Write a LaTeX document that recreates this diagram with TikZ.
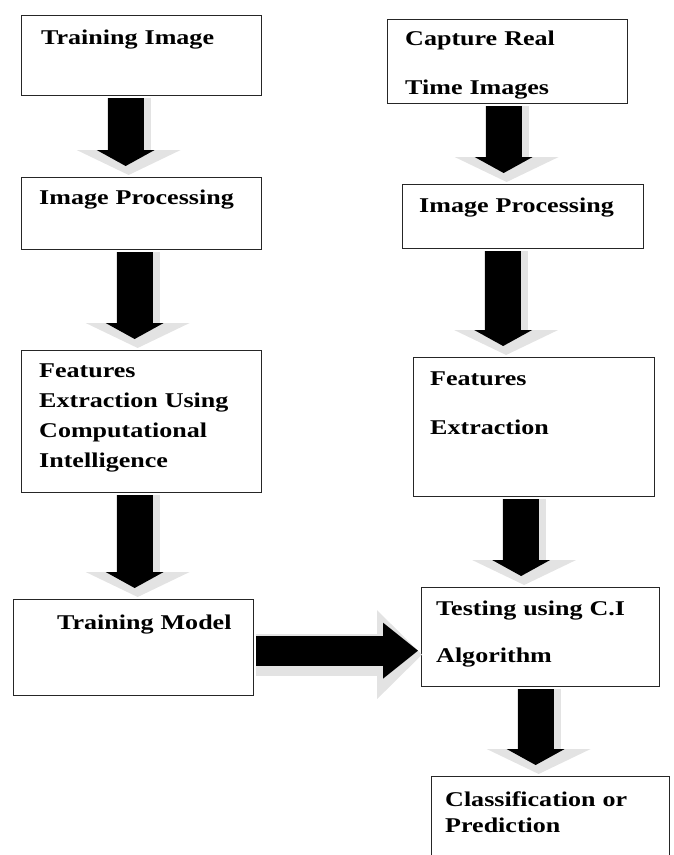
\documentclass[tikz,border=0pt]{standalone}
\usepackage{fontspec}
\setmainfont{Liberation Serif}[FakeStretch=1.24]
\usetikzlibrary{arrows.meta}
\tikzset{
  box/.style={draw=black!85, line width=1.3pt, anchor=north west, inner sep=0pt},
  txt/.style={anchor=base west, inner sep=0pt, align=left, text width=215pt,
    font=\bfseries\fontsize{21}{30}\selectfont},
  glow/.style={draw=black!11, line width=44pt,
    -{Triangle[width=104pt,length=25pt,line width=0pt]}},
  blk/.style={draw=black, line width=36pt,
    -{Triangle[width=58pt,length=16pt,line width=0pt]}},
  hglow/.style={draw=black!11, line width=42pt,
    -{Triangle[width=89pt,length=45pt,line width=0pt]}},
  hblk/.style={draw=black, line width=30pt,
    -{Triangle[width=56pt,length=35pt,line width=0pt]}}
}
\begin{document}
\begin{tikzpicture}[x=1pt,y=-1pt]
  \useasboundingbox (0,0) rectangle (673,855);
  % training side
  \node[box, minimum width=240pt, minimum height=80pt] (trainimg) at (21,15) {};
  \node[box, minimum width=240pt, minimum height=72pt] (procleft) at (21,177) {};
  \node[box, minimum width=240pt, minimum height=142pt] (featci) at (21,350) {};
  \node[box, minimum width=240pt, minimum height=96pt] (trainmodel) at (13,599) {};
  % testing side
  \node[box, minimum width=240pt, minimum height=84pt] (capture) at (387,19) {};
  \node[box, minimum width=241pt, minimum height=64pt] (procright) at (402,184) {};
  \node[box, minimum width=241pt, minimum height=139pt] (featright) at (413,357) {};
  \node[box, minimum width=238pt, minimum height=99pt] (testing) at (421,587) {};
  \node[box, minimum width=238pt, minimum height=86pt] (classify) at (431,776) {};

  \node[txt] (trainimgtxt) at (41,44) {Training Image};
  \node[txt] (proclefttxt) at (39,204) {Image Processing};
  \node[txt] (featcitxt) at (39,377) {Features\\Extraction Using\\Computational\\Intelligence};
  \node[txt] (trainmodeltxt) at (57,629) {Training Model};
  \node[txt] (capturetxt) at (405,45) {Capture Real\\[19pt]Time Images};
  \node[txt] (procrighttxt) at (419,212) {Image Processing};
  \node[txt] (featrighttxt) at (430,385) {Features\\[19pt]Extraction};
  \node[txt] (testingtxt) at (436,615) {Testing using C.I\\[17pt]Algorithm};
  \node[txt] (classifytxt) at (445,806) {Classification or\\[-4pt]Prediction};

  % block arrows
  \draw[glow] ([xshift=-13pt,yshift=-2pt]trainimg.south) -- ([xshift=-13pt,yshift=2pt]trainimg.south |- procleft.north);
  \draw[blk] ([xshift=-16pt,yshift=-2pt]trainimg.south) -- ([xshift=-16pt,yshift=11pt]trainimg.south |- procleft.north);
  \draw[glow] ([xshift=-4pt,yshift=-2pt]procleft.south) -- ([xshift=-4pt,yshift=2pt]procleft.south |- featci.north);
  \draw[blk] ([xshift=-7pt,yshift=-2pt]procleft.south) -- ([xshift=-7pt,yshift=11pt]procleft.south |- featci.north);
  \draw[glow] ([xshift=-4pt,yshift=-2pt]featci.south) -- ([xshift=-4pt,yshift=2pt]featci.south |- trainmodel.north);
  \draw[blk] ([xshift=-7pt,yshift=-2pt]featci.south) -- ([xshift=-7pt,yshift=11pt]featci.south |- trainmodel.north);
  \draw[glow] ([xshift=-1pt,yshift=-2pt]capture.south) -- ([xshift=-1pt,yshift=2pt]capture.south |- procright.north);
  \draw[blk] ([xshift=-4pt,yshift=-2pt]capture.south) -- ([xshift=-4pt,yshift=11pt]capture.south |- procright.north);
  \draw[glow] ([xshift=-17pt,yshift=-2pt]procright.south) -- ([xshift=-17pt,yshift=2pt]procright.south |- featright.north);
  \draw[blk] ([xshift=-20pt,yshift=-2pt]procright.south) -- ([xshift=-20pt,yshift=11pt]procright.south |- featright.north);
  \draw[glow] ([xshift=-10pt,yshift=-2pt]featright.south) -- ([xshift=-10pt,yshift=2pt]featright.south |- testing.north);
  \draw[blk] ([xshift=-13pt,yshift=-2pt]featright.south) -- ([xshift=-13pt,yshift=11pt]featright.south |- testing.north);
  \draw[glow] ([xshift=-2pt,yshift=-2pt]testing.south) -- ([xshift=-2pt,yshift=2pt]testing.south |- classify.north);
  \draw[blk] ([xshift=-5pt,yshift=-2pt]testing.south) -- ([xshift=-5pt,yshift=11pt]testing.south |- classify.north);
  \draw[hglow] ([xshift=2pt,yshift=-7pt]trainmodel.east) -- ([xshift=1pt,yshift=-7pt]trainmodel.east -| testing.west);
  \draw[hblk] ([xshift=2pt,yshift=-3pt]trainmodel.east) -- ([xshift=-3pt,yshift=-3pt]trainmodel.east -| testing.west);
\end{tikzpicture}
\end{document}
